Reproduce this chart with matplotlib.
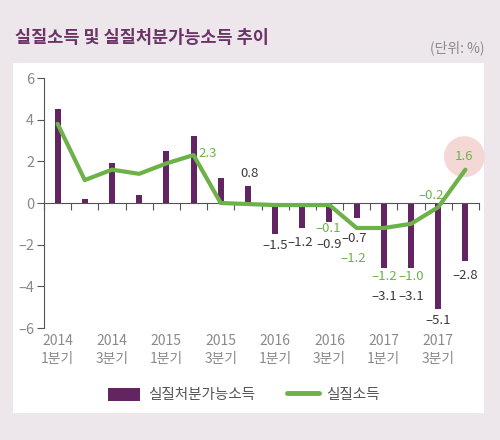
import matplotlib
matplotlib.use("Agg")
import matplotlib.pyplot as plt
from matplotlib.patches import Rectangle
from matplotlib.lines import Line2D
from matplotlib.patches import Patch

plt.rcParams['font.family'] = ['Noto Sans CJK KR', 'DejaVu Sans']

# data
quarter_labels = ["2014\n1분기", "2014\n3분기", "2015\n1분기", "2015\n3분기",
                  "2016\n1분기", "2016\n3분기", "2017\n1분기", "2017\n3분기"]
disposable = [4.5, 0.2, 1.9, 0.4, 2.5, 3.2, 1.2, 0.8,
              -1.5, -1.2, -0.9, -0.7, -3.1, -3.1, -5.1, -2.8]
real_income = [3.8, 1.1, 1.6, 1.4, 1.9, 2.3, 0.0, -0.05,
               -0.1, -0.1, -0.1, -1.2, -1.2, -1.0, -0.2, 1.6]
yticks = [-6, -4, -2, 0, 2, 4, 6]

# which points get a label, offset in pixels
bar_label_off = {7: (2, 13), 8: (0, -11), 9: (-2, -14), 10: (0, -23), 11: (-3, -21),
                 12: (0, -29), 13: (0, -29), 14: (0, -11), 15: (0, -14)}
line_label_off = {5: (14, 2), 10: (-1, -23), 11: (-3, -30), 12: (0, -49),
                  13: (0, -53), 14: (-7, 12), 15: (-1, 13)}

purple = "#632462"
green = "#6cb248"
grey = "#8a8a8a"

fig = plt.figure(figsize=(5, 4.4), dpi=100)
fig.patch.set_facecolor("#ede7eb")
fig.patches.append(Rectangle((13 / 500, 1 - 413 / 440), 471 / 500, 350 / 440,
                             transform=fig.transFigure, facecolor="white",
                             edgecolor="none", zorder=-10))

ax = fig.add_axes([44 / 500, 1 - 328 / 440, 435 / 500, 250 / 440])
ax.set_facecolor("none")
x = list(range(len(disposable)))

ax.bar(x, disposable, width=0.22, color=purple, zorder=2)
ax.plot(x, real_income, color=green, lw=3, solid_capstyle="round",
        solid_joinstyle="round", zorder=3)


def fmt(v):
    return f"{v:.1f}".replace("-", "–")


for i, (dx, dy) in bar_label_off.items():
    ax.annotate(fmt(disposable[i]), (i, disposable[i]), xytext=(dx, dy),
                textcoords="offset pixels", ha="center", va="center",
                fontsize=9.5, color="#3a3a3a", zorder=5)
for i, (dx, dy) in line_label_off.items():
    kw = {}
    if i == 15:
        kw["bbox"] = dict(boxstyle="circle,pad=0.85", fc="#f3d8d6", ec="none")
    ax.annotate(fmt(real_income[i]), (i, real_income[i]), xytext=(dx, dy),
                textcoords="offset pixels", ha="center", va="center",
                fontsize=9.5, color=green, zorder=1 if i == 15 else 5, **kw)

ax.set_xlim(-0.5, 15.5)
ax.set_ylim(-6, 6)
ax.spines["top"].set_visible(False)
ax.spines["right"].set_visible(False)
ax.spines["bottom"].set_position(("data", 0))
for s in ("left", "bottom"):
    ax.spines[s].set_color("#555555")
    ax.spines[s].set_linewidth(0.8)

ax.set_xticks([i + 0.5 for i in range(-1, 16)])
ax.set_xticklabels([])
ax.tick_params(axis="x", direction="out", length=5, color="#555555", width=0.8)
ax.set_yticks(yticks)
ax.set_yticklabels([str(t).replace("-", "–") for t in yticks])
ax.tick_params(axis="y", direction="out", length=5, color="#555555", width=0.8,
               labelsize=10.5, labelcolor=grey, pad=2)

for k, lab in enumerate(quarter_labels):
    ax.text(2 * k, -6.3, lab, ha="center", va="top", fontsize=10,
            color=grey, linespacing=1.3, clip_on=False)

fig.text(15 / 500, 1 - 38 / 440, "실질소득 및 실질처분가능소득 추이", fontsize=12.6,
         color="#6b3468", va="center", ha="left", fontweight="bold")
fig.text(484 / 500, 1 - 48 / 440, "(단위: %)", fontsize=10, color=grey,
         va="center", ha="right")

handles = [Patch(facecolor=purple, edgecolor="none"),
           Line2D([0], [0], color=green, lw=3.5, solid_capstyle="round")]
fig.legend(handles, ["실질처분가능소득", "실질소득"], loc="center",
           bbox_to_anchor=(244 / 500, 1 - 395 / 440), ncol=2, frameon=False,
           fontsize=10.5, labelcolor="#555555", handlelength=2.2,
           handleheight=1.0, columnspacing=2.2, handletextpad=0.5)

fig.savefig("out.png", dpi=100, facecolor=fig.get_facecolor())
